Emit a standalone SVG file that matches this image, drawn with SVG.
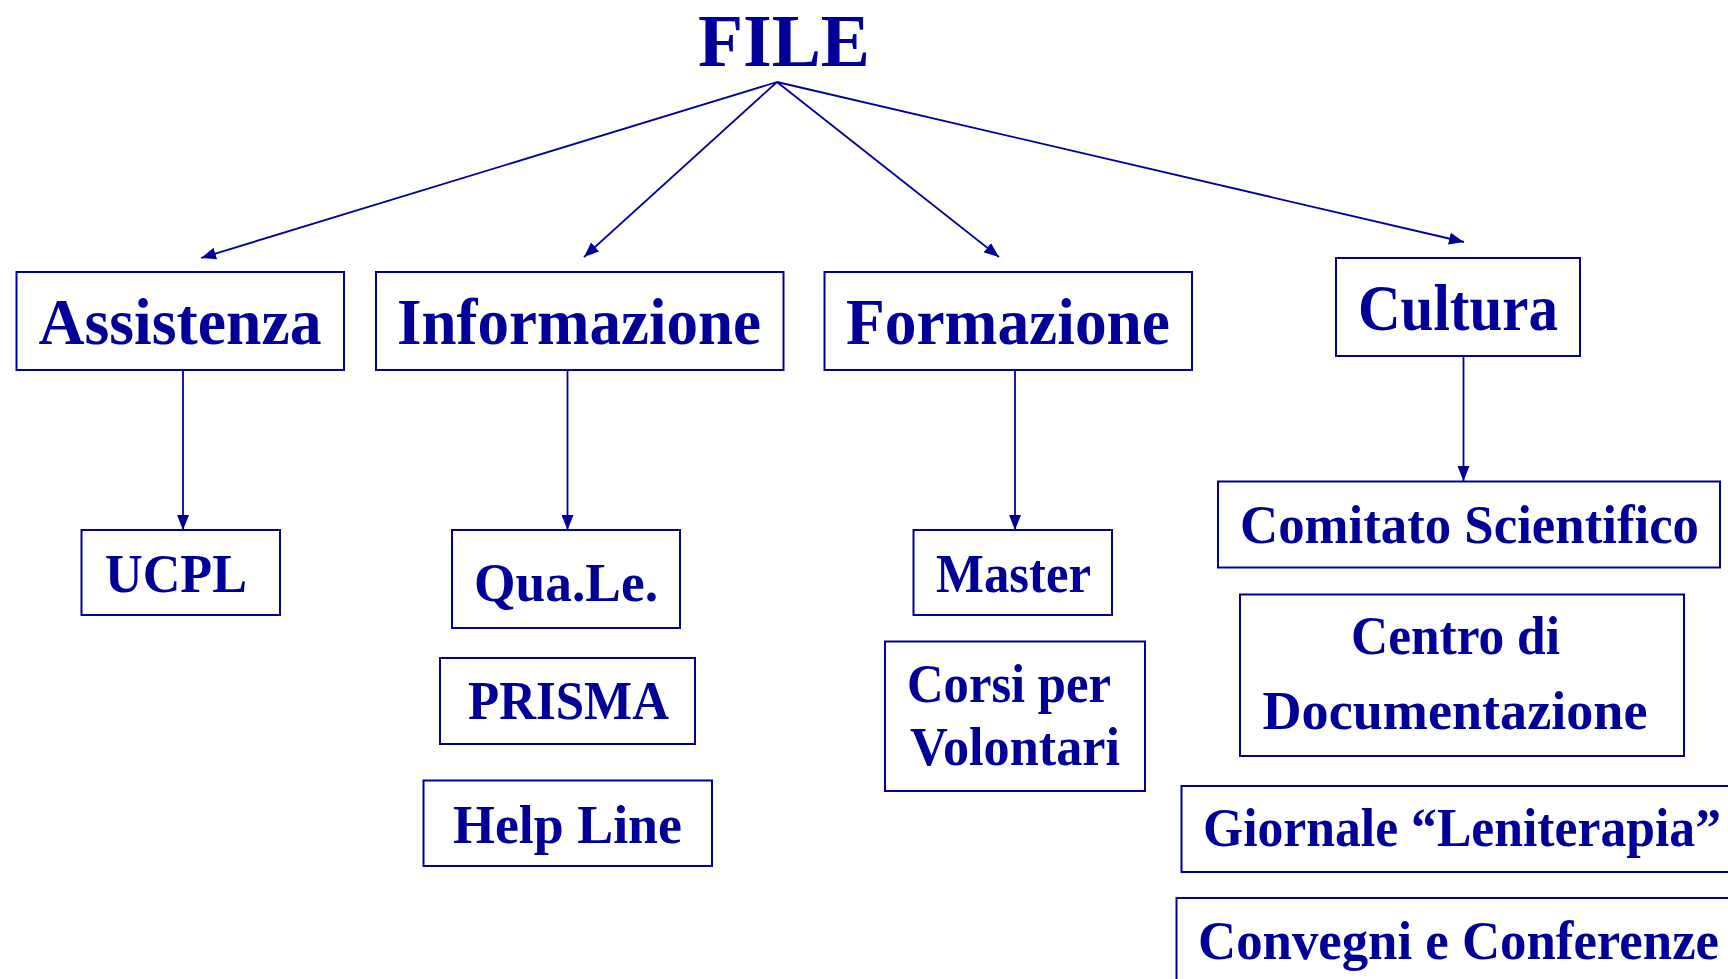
<svg xmlns="http://www.w3.org/2000/svg" width="1728" height="979" viewBox="0 0 1728 979">
<style>
.box{fill:#ffffff;stroke:#000099;stroke-width:2}
.t{font-family:"Liberation Serif","Times New Roman",serif;font-weight:bold;fill:#000099;text-anchor:middle}
.l2{font-size:66px}
.l3{font-size:55px}
.c{stroke:#000099;stroke-width:1.8;fill:none;marker-end:url(#ah)}
</style>
<defs>
<marker id="ah" markerUnits="userSpaceOnUse" markerWidth="16" markerHeight="12" refX="15" refY="6" orient="auto">
<path d="M0,0 L15,6 L0,12 z" fill="#000099"/>
</marker>
</defs>
<rect width="1728" height="979" fill="#ffffff"/>
<g id="connectors">
<line class="c" x1="777" y1="82" x2="201" y2="258"/>
<line class="c" x1="777" y1="82" x2="584" y2="257"/>
<line class="c" x1="777" y1="82" x2="999" y2="257"/>
<line class="c" x1="777" y1="82" x2="1464" y2="242"/>
<line class="c" x1="183" y1="370" x2="183" y2="530"/>
<line class="c" x1="567.5" y1="370" x2="567.5" y2="530"/>
<line class="c" x1="1015" y1="370" x2="1015" y2="530"/>
<line class="c" x1="1463.5" y1="356" x2="1463.5" y2="481"/>
</g>
<g id="file">
<text class="t" x="784" y="66" font-size="74" textLength="172" lengthAdjust="spacingAndGlyphs">FILE</text>
</g>
<g id="assistenza">
<rect class="box" x="16.5" y="272" width="327.5" height="98"/>
<text class="t l2" x="180" y="344" textLength="283" lengthAdjust="spacingAndGlyphs">Assistenza</text>
</g>
<g id="informazione">
<rect class="box" x="376" y="272" width="407.5" height="98"/>
<text class="t l2" x="579" y="344" textLength="364" lengthAdjust="spacingAndGlyphs">Informazione</text>
</g>
<g id="formazione">
<rect class="box" x="824.5" y="272" width="367.5" height="98"/>
<text class="t l2" x="1008" y="344" textLength="324" lengthAdjust="spacingAndGlyphs">Formazione</text>
</g>
<g id="cultura">
<rect class="box" x="1336" y="258" width="244" height="98"/>
<text class="t l2" x="1458" y="329.5" textLength="200" lengthAdjust="spacingAndGlyphs">Cultura</text>
</g>
<g id="ucpl">
<rect class="box" x="81.5" y="530" width="198.5" height="85"/>
<text class="t l3" x="176" y="592" textLength="142" lengthAdjust="spacingAndGlyphs">UCPL</text>
</g>
<g id="quale">
<rect class="box" x="452" y="530" width="228" height="98"/>
<text class="t l3" x="566" y="600.5" textLength="184" lengthAdjust="spacingAndGlyphs">Qua.Le.</text>
</g>
<g id="prisma">
<rect class="box" x="440" y="658" width="255" height="86"/>
<text class="t l3" x="568.5" y="718.5" textLength="201" lengthAdjust="spacingAndGlyphs">PRISMA</text>
</g>
<g id="helpline">
<rect class="box" x="423.5" y="780.5" width="288.5" height="85.5"/>
<text class="t l3" x="567.5" y="843" textLength="229" lengthAdjust="spacingAndGlyphs">Help Line</text>
</g>
<g id="master">
<rect class="box" x="913.5" y="530" width="198.5" height="85"/>
<text class="t l3" x="1013.5" y="592" textLength="155" lengthAdjust="spacingAndGlyphs">Master</text>
</g>
<g id="corsi">
<rect class="box" x="885" y="641.5" width="260" height="149.5"/>
<text class="t l3" x="1009" y="702" textLength="204" lengthAdjust="spacingAndGlyphs">Corsi per</text>
<text class="t l3" x="1015" y="765" textLength="210" lengthAdjust="spacingAndGlyphs">Volontari</text>
</g>
<g id="comitato">
<rect class="box" x="1218" y="481.5" width="502" height="86"/>
<text class="t l3" x="1469.5" y="543" textLength="459" lengthAdjust="spacingAndGlyphs">Comitato Scientifico</text>
</g>
<g id="centro">
<rect class="box" x="1240" y="594.5" width="444" height="161.5"/>
<text class="t l3" x="1455.5" y="653.5" textLength="209" lengthAdjust="spacingAndGlyphs">Centro di</text>
<text class="t l3" x="1455" y="728.5" textLength="385" lengthAdjust="spacingAndGlyphs">Documentazione</text>
</g>
<g id="giornale">
<rect class="box" x="1181.5" y="786" width="560" height="86"/>
<text class="t l3" x="1462" y="846" textLength="518" lengthAdjust="spacingAndGlyphs">Giornale “Leniterapia”</text>
</g>
<g id="convegni">
<rect class="box" x="1176.5" y="898" width="570" height="100"/>
<text class="t l3" x="1458.5" y="959" textLength="521" lengthAdjust="spacingAndGlyphs">Convegni e Conferenze</text>
</g>
</svg>
